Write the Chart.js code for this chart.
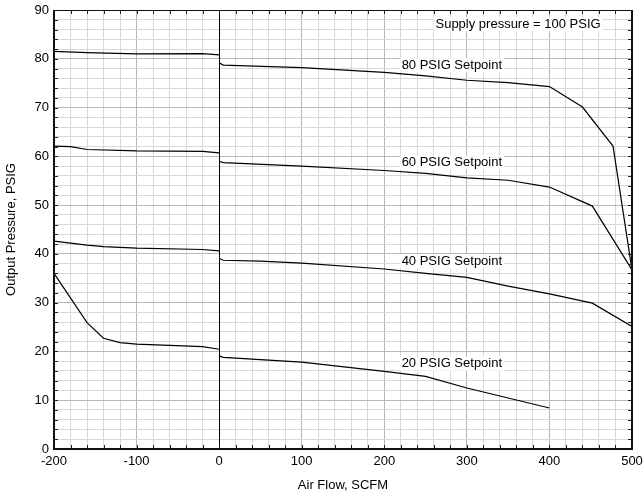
<!DOCTYPE html>
<html>
<head>
<meta charset="utf-8">
<script src="https://cdn.jsdelivr.net/npm/chart.js@4/dist/chart.umd.min.js"></script>
<style>
html,body{margin:0;padding:0;background:#fff;}
#wrap{width:644px;height:497px;}
</style>
</head>
<body>
<div id="wrap"><canvas id="c" width="644" height="497"></canvas></div>
<script>
// Data (x = air flow SCFM, y = output pressure PSIG)
const flow80L = [-200, -160, -100, -20, 0];
const psig80L = [81.5, 81.25, 81.0, 81.05, 80.8];
const flow80R = [0, 5, 100, 200, 250, 300, 350, 400, 440, 477, 500];
const psig80R = [79.2, 78.7, 78.2, 77.2, 76.5, 75.6, 75.1, 74.3, 70.1, 62.1, 36.7];

const flow60L = [-200, -180, -160, -100, -20, 0];
const psig60L = [62.1, 62.0, 61.4, 61.1, 61.0, 60.7];
const flow60R = [0, 5, 100, 200, 250, 300, 350, 400, 452, 500];
const psig60R = [59.0, 58.7, 58.0, 57.1, 56.5, 55.6, 55.1, 53.7, 49.8, 36.7];

const flow40L = [-200, -160, -140, -100, -20, 0];
const psig40L = [42.6, 41.8, 41.5, 41.2, 40.9, 40.6];
const flow40R = [0, 5, 50, 100, 200, 250, 300, 350, 400, 452, 500];
const psig40R = [39.1, 38.7, 38.5, 38.1, 36.9, 36.0, 35.2, 33.4, 31.8, 29.9, 25.1];

const flow20L = [-200, -160, -140, -120, -100, -20, 0];
const psig20L = [36.0, 25.9, 22.7, 21.8, 21.5, 21.0, 20.45];
const flow20R = [0, 5, 100, 200, 250, 300, 400];
const psig20R = [19.1, 18.8, 17.8, 15.9, 14.9, 12.5, 8.4];

const xTicks = [-200, -100, 0, 100, 200, 300, 400, 500];
const yTicks = [0, 10, 20, 30, 40, 50, 60, 70, 80, 90];

const labelTexts = ["Supply pressure = 100 PSIG", "80 PSIG Setpoint", "60 PSIG Setpoint", "40 PSIG Setpoint", "20 PSIG Setpoint"];
const labelX = [362, 221, 221, 221, 221];
const labelY = [87.1, 78.7, 58.7, 38.5, 17.5];
const labelAlign = ["center", "left", "left", "left", "left"];

function pts(xs, ys){ return xs.map((x,i)=>({x:x, y:ys[i]})); }
function ds(xs, ys){
  return {data: pts(xs, ys), showLine:true, borderColor:'#000', borderWidth:1.2,
          pointRadius:0, fill:false, tension:0};
}

const FONT = 'Liberation Sans, Arial, sans-serif';

const decor = {
  id:'decor',
  beforeDatasetsDraw(chart){
    const ctx = chart.ctx, xs = chart.scales.x, a = chart.chartArea;
    ctx.save();
    const x0 = Math.round(xs.getPixelForValue(0)) + 0.5;
    ctx.strokeStyle = '#000'; ctx.lineWidth = 1;
    ctx.beginPath(); ctx.moveTo(x0, a.top); ctx.lineTo(x0, a.bottom); ctx.stroke();
    ctx.restore();
  },
  afterDatasetsDraw(chart){
    const ctx = chart.ctx, xs = chart.scales.x, ys = chart.scales.y, a = chart.chartArea;
    ctx.save();
    ctx.strokeStyle = '#222'; ctx.lineWidth = 1;
    ctx.beginPath();
    for (let v = xs.min; v <= xs.max; v += 20){
      const p = Math.round(xs.getPixelForValue(v)) + 0.5;
      ctx.moveTo(p, a.top); ctx.lineTo(p, a.top + 4);
      ctx.moveTo(p, a.bottom); ctx.lineTo(p, a.bottom - 4);
    }
    for (let v = ys.min; v <= ys.max; v += 2){
      const p = Math.round(ys.getPixelForValue(v)) + 0.5;
      ctx.moveTo(a.left, p); ctx.lineTo(a.left + 4, p);
      ctx.moveTo(a.right, p); ctx.lineTo(a.right - 4, p);
    }
    ctx.stroke();
    ctx.strokeStyle = '#111';
    ctx.lineWidth = 1;
    ctx.beginPath(); ctx.moveTo(a.left, a.top + 0.5); ctx.lineTo(a.right, a.top + 0.5); ctx.stroke();
    ctx.lineWidth = 2;
    ctx.beginPath();
    ctx.moveTo(a.left, a.top); ctx.lineTo(a.left, a.bottom); ctx.lineTo(a.right, a.bottom); ctx.lineTo(a.right, a.top);
    ctx.stroke();
    ctx.font = '13px ' + FONT;
    ctx.textBaseline = 'middle';
    for (let i = 0; i < labelTexts.length; i++){
      const t = labelTexts[i];
      const w = ctx.measureText(t).width;
      const px = xs.getPixelForValue(labelX[i]);
      const py = ys.getPixelForValue(labelY[i]);
      const left = labelAlign[i] === 'center' ? px - w/2 : px;
      ctx.fillStyle = '#fff';
      ctx.fillRect(left - 2, py - 7, w + 4, 14);
      ctx.fillStyle = '#000';
      ctx.textAlign = 'left';
      ctx.fillText(t, left, py);
    }
    ctx.restore();
  }
};

new Chart(document.getElementById('c'), {
  type:'scatter',
  data:{ datasets:[
    ds(flow80L, psig80L), ds(flow80R, psig80R),
    ds(flow60L, psig60L), ds(flow60R, psig60R),
    ds(flow40L, psig40L), ds(flow40R, psig40R),
    ds(flow20L, psig20L), ds(flow20R, psig20R)
  ]},
  options:{
    responsive:false, animation:false,
    layout:{padding:{top:10, right:12, left:0, bottom:0}},
    plugins:{legend:{display:false}, tooltip:{enabled:false}},
    scales:{
      x:{
        type:'linear', min:xTicks[0], max:xTicks[xTicks.length-1],
        afterFit(s){ s.height = 48; s.paddingLeft = 0; s.paddingRight = 0; },
        border:{display:false},
        grid:{drawTicks:false,
          color:(c)=>{ const v=c.tick.value; if (v===0) return 'rgba(0,0,0,0)'; return v%100===0 ? '#b8b8b8' : '#d8d8d8'; },
          lineWidth:1},
        ticks:{stepSize:20, autoSkip:false, maxRotation:0, padding:5, color:'#000',
          font:{family:FONT, size:13},
          callback:(v)=> xTicks.includes(v) ? String(v) : ''},
        title:{display:true, text:'Air Flow, SCFM', color:'#000', font:{family:FONT, size:13}, padding:{top:6}}
      },
      y:{
        type:'linear', min:yTicks[0], max:yTicks[yTicks.length-1],
        afterFit(s){ s.width = 54; s.paddingTop = 0; s.paddingBottom = 0; },
        border:{display:false},
        grid:{drawTicks:false,
          color:(c)=>{ const v=c.tick.value; return v%10===0 ? '#b8b8b8' : '#d8d8d8'; },
          lineWidth:1},
        ticks:{stepSize:2, autoSkip:false, padding:5, color:'#000',
          font:{family:FONT, size:13},
          callback:(v)=> yTicks.includes(v) ? String(v) : ''},
        title:{display:true, text:'Output Pressure, PSIG', color:'#000', font:{family:FONT, size:13}, padding:{bottom:4}}
      }
    }
  },
  plugins:[decor]
});
</script>
</body>
</html>
